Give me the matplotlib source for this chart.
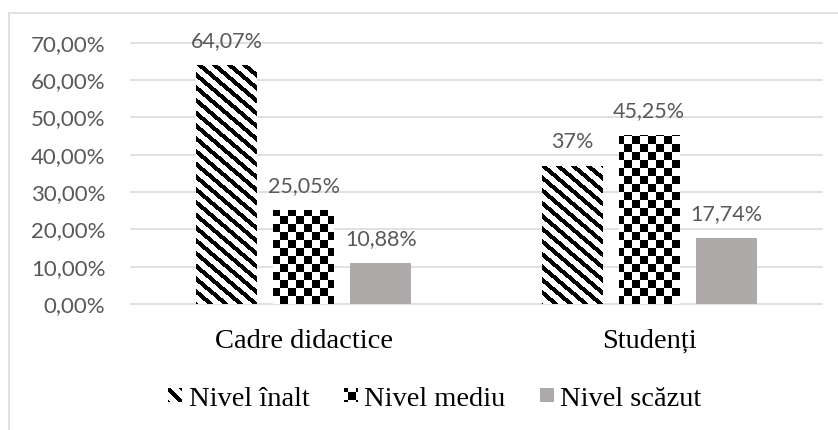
import numpy as np
import matplotlib
matplotlib.use("Agg")
import matplotlib.pyplot as plt
from matplotlib.patches import Rectangle, Patch
from matplotlib.legend_handler import HandlerBase
from matplotlib.ticker import FuncFormatter

# ── Data ─────────────────────────────────────────────────────────────────────
categories    = ["Cadre didactice", "Studenți"]
series        = ["Nivel înalt", "Nivel mediu", "Nivel scăzut"]
nivel_inalt   = [64.07, 37.0]
nivel_mediu   = [25.05, 45.25]
nivel_scazut  = [10.88, 17.74]
label_inalt   = ["64,07%", "37%"]
label_mediu   = ["25,05%", "45,25%"]
label_scazut  = ["10,88%", "17,74%"]
y_ticks       = [0, 10, 20, 30, 40, 50, 60, 70]

# ── Style ────────────────────────────────────────────────────────────────────
W, H       = 838, 430
GRID       = "#d9d9d9"
LABEL_GREY = "#595959"
BAR_GREY   = "#aeaaaa"
SANS       = ["Lato", "DejaVu Sans"]
SERIF      = ["Liberation Serif", "DejaVu Serif"]
BAR_W      = 0.1766
STEP       = 0.2229


def stripes(cols, rows):
    return ((cols - rows / 0.85) % 15) < 6.5


def checker(cols, rows):
    return ((cols // 8 + rows // 8) % 2) == 0


def fill_pattern(ax, rect, fn):
    """Paint a black/white pixel pattern inside a bar, 1 image px = 1 device px."""
    bb = rect.get_window_extent()
    c0, c1 = int(round(bb.x0)), int(round(bb.x1))
    r0, r1 = H - int(round(bb.y1)), H - int(round(bb.y0))
    cols, rows = np.meshgrid(np.arange(c0, c1), np.arange(r0, r1))
    img = np.where(fn(cols, rows), 0.0, 1.0)
    inv = ax.transData.inverted()
    xa, ya = inv.transform((c0, H - r1))
    xb, yb = inv.transform((c1, H - r0))
    ax.imshow(img, cmap="gray", vmin=0, vmax=1, interpolation="nearest",
              aspect="auto", origin="upper", zorder=2, extent=(xa, xb, ya, yb))


class PixelSwatch(HandlerBase):
    def __init__(self, fn, n=14):
        super().__init__()
        self.fn, self.n = fn, n

    def create_artists(self, legend, orig_handle, xdescent, ydescent,
                       width, height, fontsize, trans):
        n = self.n
        cw, ch = width / n, height / n
        x0, y0 = -xdescent, -ydescent
        arts = [Rectangle((x0, y0), width, height, facecolor="white",
                          edgecolor="none", transform=trans)]
        for j in range(n):
            for i in range(n):
                if self.fn(i, j):
                    arts.append(Rectangle((x0 + i * cw, y0 + height - (j + 1) * ch),
                                          cw, ch, facecolor="black", edgecolor="none",
                                          lw=0, antialiased=False, transform=trans))
        return arts


fig = plt.figure(figsize=(W / 100, H / 100), dpi=100)
ax = fig.add_axes([131 / W, (H - 304) / H, 691 / W, 261.3 / H])

x = np.arange(len(categories))
b1 = ax.bar(x - STEP, nivel_inalt, BAR_W, color="white", lw=0, zorder=2)
b2 = ax.bar(x, nivel_mediu, BAR_W, color="white", lw=0, zorder=2)
b3 = ax.bar(x + STEP, nivel_scazut, BAR_W, color=BAR_GREY, lw=0, zorder=2)

ax.set_xlim(-0.5, len(categories) - 0.5)
ax.set_ylim(0, 70)
ax.set_yticks(y_ticks)
ax.yaxis.set_major_formatter(FuncFormatter(lambda v, p: f"{v:.2f}%".replace(".", ",")))
ax.set_xticks(x, categories)

for s in ax.spines.values():
    s.set_visible(False)
ax.set_axisbelow(True)
ax.grid(axis="y", color=GRID, lw=1.1)
for gl in ax.get_ygridlines():
    gl.set_clip_on(False)
ax.tick_params(axis="y", length=0, pad=18.5, labelsize=16, labelcolor=LABEL_GREY)
ax.tick_params(axis="x", length=0, pad=18, labelsize=20.5, labelcolor="black")
for t in ax.get_yticklabels():
    t.set_family(SANS)
for t in ax.get_xticklabels():
    t.set_family(SERIF)

# data labels
for bars, labels in [(b1, label_inalt), (b2, label_mediu), (b3, label_scazut)]:
    for rect, txt in zip(bars, labels):
        ax.annotate(txt, (rect.get_x() + rect.get_width() / 2, rect.get_height()),
                    xytext=(0, 13), textcoords="offset points", ha="center",
                    va="baseline", fontsize=15.5, color=LABEL_GREY, family=SANS)

# patterned fills need final pixel positions
fig.canvas.draw()
for rect in b1:
    fill_pattern(ax, rect, stripes)
for rect in b2:
    fill_pattern(ax, rect, checker)
ax.set_xlim(-0.5, len(categories) - 0.5)
ax.set_ylim(0, 70)

# legend
h_inalt = Patch(facecolor="white")
h_mediu = Patch(facecolor="white")
h_scazut = Patch(facecolor=BAR_GREY, edgecolor="none")
fig.legend([h_inalt, h_mediu, h_scazut], series, loc="center",
           bbox_to_anchor=(435 / W, 1 - 399 / H), ncol=3, frameon=False,
           prop={"family": SERIF, "size": 20.5}, handlelength=0.49,
           handleheight=0.38, handletextpad=0.23, columnspacing=1.2,
           borderpad=0, borderaxespad=0,
           handler_map={h_inalt: PixelSwatch(lambda i, j: ((i - j + 3) % 14) < 6),
                        h_mediu: PixelSwatch(lambda i, j: (((i + 4) // 8 + (j + 4) // 8) % 2) == 0)})

# chart-area border (right/bottom fall outside the crop)
fig.add_artist(Rectangle((9 / W, -0.1), 1.2, 1 - 13 / H + 0.1, transform=fig.transFigure,
                         facecolor="none", edgecolor=GRID, lw=1.1))

fig.savefig("out.png", dpi=100)
